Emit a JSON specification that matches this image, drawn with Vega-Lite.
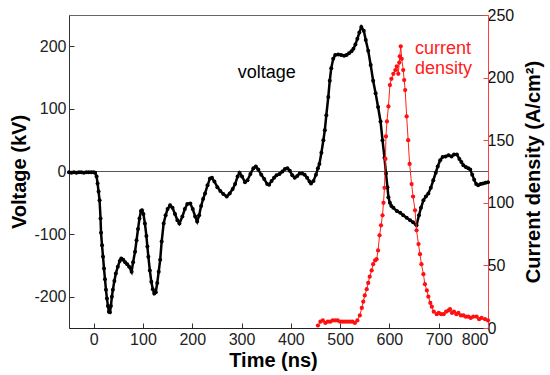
{
  "$schema": "https://vega.github.io/schema/vega-lite/v6.json",
  "width": 419,
  "height": 313,
  "autosize": "none",
  "padding": {"left": 69, "top": 15, "right": 62, "bottom": 47},
  "background": "white",
  "config": {
    "view": {"stroke": "#666", "strokeWidth": 1},
    "font": "Liberation Sans",
    "axis": {
      "labelFont": "Liberation Sans",
      "labelFontSize": 16,
      "labelColor": "#222",
      "labelExpr": "toString(datum.value)",
      "titleFont": "Liberation Sans",
      "titleFontSize": 20,
      "titleFontWeight": "bold",
      "titleColor": "#000",
      "grid": false,
      "tickSize": -5,
      "domainColor": "#333",
      "tickColor": "#333",
      "labelPadding": 8
    }
  },
  "datasets": {
    "voltage": [
      {"t": -50, "v": -1}, {"t": -45, "v": -2}, {"t": -40, "v": -1}, {"t": -35, "v": -2}, {"t": -30, "v": -1},
      {"t": -25, "v": -1}, {"t": -20, "v": -2}, {"t": -15, "v": -1}, {"t": -10, "v": -1}, {"t": -5, "v": -1},
      {"t": 0, "v": -1}, {"t": 3, "v": -2}, {"t": 6, "v": -8}, {"t": 8, "v": -19}, {"t": 10, "v": -32},
      {"t": 12, "v": -46}, {"t": 14, "v": -75}, {"t": 15, "v": -98}, {"t": 17, "v": -118}, {"t": 19, "v": -136},
      {"t": 21, "v": -155}, {"t": 23, "v": -172}, {"t": 25, "v": -189}, {"t": 27, "v": -203}, {"t": 29, "v": -215},
      {"t": 31, "v": -224}, {"t": 33, "v": -225}, {"t": 35, "v": -215}, {"t": 37, "v": -200}, {"t": 39, "v": -189},
      {"t": 42, "v": -175}, {"t": 45, "v": -163}, {"t": 49, "v": -152}, {"t": 53, "v": -143}, {"t": 56, "v": -139},
      {"t": 60, "v": -141}, {"t": 64, "v": -145}, {"t": 68, "v": -148}, {"t": 72, "v": -152}, {"t": 77, "v": -160},
      {"t": 80, "v": -145}, {"t": 84, "v": -128}, {"t": 87, "v": -110}, {"t": 90, "v": -92}, {"t": 93, "v": -75},
      {"t": 96, "v": -63}, {"t": 98, "v": -62}, {"t": 101, "v": -68}, {"t": 104, "v": -83}, {"t": 107, "v": -103},
      {"t": 109, "v": -120}, {"t": 111, "v": -136}, {"t": 114, "v": -158}, {"t": 117, "v": -176}, {"t": 120, "v": -188},
      {"t": 123, "v": -195}, {"t": 126, "v": -193}, {"t": 129, "v": -178}, {"t": 132, "v": -160}, {"t": 135, "v": -141},
      {"t": 138, "v": -112}, {"t": 142, "v": -83}, {"t": 146, "v": -70}, {"t": 150, "v": -60}, {"t": 155, "v": -54},
      {"t": 160, "v": -58}, {"t": 165, "v": -68}, {"t": 170, "v": -78}, {"t": 174, "v": -83}, {"t": 180, "v": -72},
      {"t": 185, "v": -60}, {"t": 190, "v": -52}, {"t": 196, "v": -51}, {"t": 201, "v": -60}, {"t": 206, "v": -72},
      {"t": 210, "v": -80}, {"t": 214, "v": -70}, {"t": 218, "v": -55}, {"t": 222, "v": -44}, {"t": 226, "v": -35},
      {"t": 231, "v": -22}, {"t": 236, "v": -11}, {"t": 240, "v": -10}, {"t": 245, "v": -16}, {"t": 251, "v": -25},
      {"t": 257, "v": -31}, {"t": 263, "v": -36}, {"t": 270, "v": -40}, {"t": 276, "v": -35}, {"t": 282, "v": -28},
      {"t": 287, "v": -20}, {"t": 292, "v": -8}, {"t": 296, "v": -2}, {"t": 301, "v": -8}, {"t": 307, "v": -17},
      {"t": 312, "v": -14}, {"t": 318, "v": -4}, {"t": 324, "v": 5}, {"t": 329, "v": 8}, {"t": 334, "v": 3},
      {"t": 340, "v": -5}, {"t": 346, "v": -12}, {"t": 352, "v": -20}, {"t": 356, "v": -21}, {"t": 361, "v": -15},
      {"t": 366, "v": -10}, {"t": 371, "v": -6}, {"t": 377, "v": -4}, {"t": 383, "v": 0}, {"t": 388, "v": 4},
      {"t": 393, "v": 5}, {"t": 398, "v": 1}, {"t": 403, "v": -6}, {"t": 408, "v": -10}, {"t": 413, "v": -7},
      {"t": 418, "v": -3}, {"t": 423, "v": -3}, {"t": 428, "v": -5}, {"t": 433, "v": -10}, {"t": 438, "v": -16},
      {"t": 441, "v": -19}, {"t": 446, "v": -15}, {"t": 451, "v": -5}, {"t": 455, "v": 5}, {"t": 458, "v": 12},
      {"t": 462, "v": 30}, {"t": 466, "v": 50}, {"t": 469, "v": 66}, {"t": 472, "v": 90}, {"t": 476, "v": 119},
      {"t": 479, "v": 145}, {"t": 482, "v": 165}, {"t": 486, "v": 180}, {"t": 490, "v": 186}, {"t": 496, "v": 187},
      {"t": 502, "v": 186}, {"t": 508, "v": 185}, {"t": 513, "v": 186}, {"t": 518, "v": 189}, {"t": 523, "v": 192},
      {"t": 527, "v": 196}, {"t": 531, "v": 203}, {"t": 535, "v": 212}, {"t": 539, "v": 222}, {"t": 543, "v": 231},
      {"t": 548, "v": 225}, {"t": 552, "v": 210}, {"t": 557, "v": 193}, {"t": 562, "v": 170}, {"t": 567, "v": 145},
      {"t": 572, "v": 125}, {"t": 577, "v": 103}, {"t": 582, "v": 80}, {"t": 586, "v": 50}, {"t": 590, "v": 22},
      {"t": 593, "v": -3}, {"t": 596, "v": -25}, {"t": 598, "v": -41}, {"t": 601, "v": -50}, {"t": 604, "v": -55},
      {"t": 608, "v": -58}, {"t": 615, "v": -63}, {"t": 622, "v": -66}, {"t": 628, "v": -70}, {"t": 635, "v": -74},
      {"t": 642, "v": -78}, {"t": 648, "v": -81}, {"t": 655, "v": -86}, {"t": 660, "v": -70}, {"t": 664, "v": -58},
      {"t": 669, "v": -46}, {"t": 674, "v": -40}, {"t": 679, "v": -35}, {"t": 684, "v": -26}, {"t": 689, "v": -14},
      {"t": 694, "v": -2}, {"t": 698, "v": 8}, {"t": 703, "v": 18}, {"t": 708, "v": 23}, {"t": 714, "v": 24},
      {"t": 720, "v": 26}, {"t": 726, "v": 24}, {"t": 731, "v": 27}, {"t": 737, "v": 27}, {"t": 742, "v": 20},
      {"t": 746, "v": 15}, {"t": 750, "v": 10}, {"t": 755, "v": 7}, {"t": 760, "v": 5}, {"t": 764, "v": 3},
      {"t": 768, "v": -5}, {"t": 772, "v": -13}, {"t": 776, "v": -20}, {"t": 780, "v": -22}, {"t": 785, "v": -20},
      {"t": 790, "v": -19}, {"t": 795, "v": -18}, {"t": 800, "v": -17}
    ],
    "current": [
      {"t": 455, "j": 2}, {"t": 460, "j": 5}, {"t": 465, "j": 6}, {"t": 470, "j": 4}, {"t": 475, "j": 5},
      {"t": 480, "j": 5}, {"t": 485, "j": 6}, {"t": 490, "j": 6}, {"t": 495, "j": 6}, {"t": 500, "j": 5},
      {"t": 505, "j": 5}, {"t": 510, "j": 5}, {"t": 515, "j": 5}, {"t": 520, "j": 5}, {"t": 525, "j": 5},
      {"t": 530, "j": 4}, {"t": 535, "j": 6}, {"t": 540, "j": 10}, {"t": 544, "j": 16}, {"t": 547, "j": 21},
      {"t": 550, "j": 26}, {"t": 554, "j": 31}, {"t": 557, "j": 36}, {"t": 560, "j": 41}, {"t": 564, "j": 46},
      {"t": 567, "j": 51}, {"t": 571, "j": 54}, {"t": 574, "j": 55}, {"t": 577, "j": 62}, {"t": 580, "j": 74},
      {"t": 583, "j": 82}, {"t": 586, "j": 90}, {"t": 588, "j": 100}, {"t": 590, "j": 112}, {"t": 592, "j": 135},
      {"t": 593, "j": 153}, {"t": 595, "j": 165}, {"t": 598, "j": 177}, {"t": 601, "j": 194}, {"t": 604, "j": 199},
      {"t": 608, "j": 203}, {"t": 612, "j": 206}, {"t": 615, "j": 209}, {"t": 618, "j": 203}, {"t": 620, "j": 212},
      {"t": 621, "j": 217}, {"t": 623, "j": 225}, {"t": 625, "j": 215}, {"t": 628, "j": 206}, {"t": 630, "j": 198},
      {"t": 632, "j": 190}, {"t": 635, "j": 169}, {"t": 638, "j": 150}, {"t": 641, "j": 131}, {"t": 645, "j": 115},
      {"t": 648, "j": 105}, {"t": 652, "j": 94}, {"t": 655, "j": 78}, {"t": 659, "j": 67}, {"t": 662, "j": 59},
      {"t": 665, "j": 51}, {"t": 669, "j": 43}, {"t": 672, "j": 35}, {"t": 676, "j": 30}, {"t": 679, "j": 25},
      {"t": 683, "j": 20}, {"t": 686, "j": 17}, {"t": 690, "j": 13}, {"t": 696, "j": 11}, {"t": 700, "j": 12},
      {"t": 705, "j": 11}, {"t": 710, "j": 11}, {"t": 715, "j": 13}, {"t": 720, "j": 14}, {"t": 723, "j": 15},
      {"t": 727, "j": 12}, {"t": 731, "j": 13}, {"t": 736, "j": 11}, {"t": 740, "j": 12}, {"t": 745, "j": 10},
      {"t": 750, "j": 10}, {"t": 755, "j": 9}, {"t": 760, "j": 9}, {"t": 765, "j": 8}, {"t": 770, "j": 9},
      {"t": 777, "j": 9}, {"t": 782, "j": 7}, {"t": 787, "j": 8}, {"t": 794, "j": 7}, {"t": 800, "j": 6}
    ],
    "vlabel": [
      {"t": 351, "v": 158, "label": "voltage"}
    ],
    "clabel": [
      {"t": 652, "v": 196, "label": "current"},
      {"t": 652, "v": 164, "label": "density"}
    ]
  },
  "layer": [
    {
      "layer": [
        {
          "data": {"values": [{"v0": 0}]},
          "mark": {"type": "rule", "color": "#555", "strokeWidth": 1.2},
          "encoding": {
            "y": {"field": "v0", "type": "quantitative", "scale": {"domain": [-250, 250], "nice": false}}
          }
        },
        {
          "data": {"name": "voltage"},
          "mark": {"type": "line", "color": "#000", "strokeWidth": 2.5, "point": {"filled": true, "size": 16, "color": "#000"}},
          "encoding": {
            "x": {
              "field": "t", "type": "quantitative",
              "scale": {"domain": [-50, 800], "nice": false, "zero": false},
              "axis": {"title": "Time (ns)", "values": [0, 100, 200, 300, 400, 500, 600, 700, 800], "titlePadding": 3, "titleX": 204, "domainColor": "#222"}
            },
            "y": {
              "field": "v", "type": "quantitative",
              "scale": {"domain": [-250, 250], "nice": false},
              "axis": {"title": "Voltage (kV)", "values": [-200, -100, 0, 100, 200], "orient": "left", "titlePadding": 4}
            }
          }
        },
        {
          "data": {"name": "vlabel"},
          "mark": {"type": "text", "fontSize": 18, "font": "Liberation Sans", "baseline": "middle", "align": "center", "color": "#000"},
          "encoding": {
            "x": {"field": "t", "type": "quantitative"},
            "y": {"field": "v", "type": "quantitative"},
            "text": {"field": "label"}
          }
        },
        {
          "data": {"name": "clabel"},
          "mark": {"type": "text", "fontSize": 18, "font": "Liberation Sans", "baseline": "middle", "align": "left", "color": "#ff2020"},
          "encoding": {
            "x": {"field": "t", "type": "quantitative"},
            "y": {"field": "v", "type": "quantitative"},
            "text": {"field": "label"}
          }
        }
      ]
    },
    {
      "data": {"name": "current"},
      "mark": {"type": "line", "color": "#ff2020", "strokeWidth": 1, "point": {"filled": true, "size": 18, "color": "#ff1010"}},
      "encoding": {
        "x": {"field": "t", "type": "quantitative"},
        "y": {
          "field": "j", "type": "quantitative",
          "scale": {"domain": [0, 250], "nice": false},
          "axis": {"title": "Current density (A/cm²)", "orient": "right", "values": [0, 50, 100, 150, 200, 250], "domainColor": "#ff4040", "tickColor": "#ff4040", "labelColor": "#111", "labelPadding": 4, "titleAngle": 270, "titlePadding": 30}
        }
      }
    }
  ],
  "resolve": {"scale": {"y": "independent"}}
}
